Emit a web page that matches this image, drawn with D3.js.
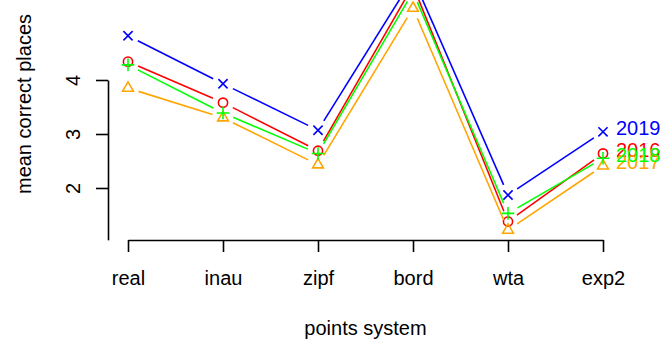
<!DOCTYPE html>
<html>
  <head>
    <script src="https://d3js.org/d3.v7.min.js" charset="utf-8"></script>
    <meta charset="UTF-8">
    <title>mean correct places</title>
    <style>
      body { margin: 0; background: #fff; }
      svg text { font-family: "Liberation Sans", Arial, sans-serif; font-size: 20px; fill: #000; }
    </style>
  </head>
  <body>
    <svg class="chart"></svg>
    <script type="text/javascript">

     var width = 672,
         height = 341;

     // points systems on the x axis
     var systems = ["real", "inau", "zipf", "bord", "wta", "exp2"];

     // one series per year
     var years = ["2016", "2017", "2018", "2019"];
     var v2016 = [4.34, 3.58, 2.69, 5.75, 1.38, 2.64];
     var v2017 = [3.85, 3.30, 2.43, 5.33, 1.22, 2.41];
     var v2018 = [4.28, 3.39, 2.64, 5.63, 1.53, 2.55];
     var v2019 = [4.82, 3.93, 3.07, 5.89, 1.87, 3.04];
     var yTicks = [2, 3, 4];

     var colors = ["#ff0000", "#ffa500", "#00ff00", "#0000ff"];
     var shapes = ["circle", "triangle", "plus", "cross"];

     var series = [v2016, v2017, v2018, v2019].map(function(vals, i) {
         return {year: years[i], color: colors[i], shape: shapes[i],
                 values: vals.map(function(v, j) { return {sys: systems[j], v: v}; })};
     });

     var chart = d3.select(".chart")
                   .attr("width", width)
                   .attr("height", height);

     var x = d3.scalePoint().domain(systems).range([128, 603]);
     var y = d3.scaleLinear().domain([2, 4]).range([188, 80]);

     // axes
     var xAxis = d3.axisBottom(x).tickSizeInner(12).tickSizeOuter(0);
     var gx = chart.append("g").attr("transform", "translate(0,240)").call(xAxis);
     gx.selectAll("text").attr("y", 0).attr("dy", 0)
       .attr("transform", "translate(0,45)").style("font-size", "20px");

     var yLine = y.copy().domain([1.04, 4]).range([y(1.04), y(4)]);
     var yAxis = d3.axisLeft(yLine).tickValues(yTicks).tickSizeInner(12).tickSizeOuter(0)
                   .tickFormat(d3.format("d"));
     var gy = chart.append("g").attr("transform", "translate(108,0)").call(yAxis);
     gy.selectAll("text").attr("x", 0).attr("y", -28).attr("dy", 0)
       .attr("text-anchor", "middle").attr("transform", "rotate(-90)")
       .style("font-size", "20px");

     chart.selectAll(".domain, .tick line").attr("stroke", "#000").attr("stroke-width", 1.6);
     chart.selectAll(".tick text").attr("fill", "#000").style("font-family", "'Liberation Sans', Arial, sans-serif");

     // titles
     chart.append("text").attr("x", 365.5).attr("y", 335)
          .attr("text-anchor", "middle").text("points system");
     chart.append("text").attr("transform", "translate(31,104) rotate(-90)")
          .attr("text-anchor", "middle").text("mean correct places");

     var gap = 11;

     function segs(vals) {
         var out = [];
         for (var i = 0; i < vals.length - 1; i++) {
             var x1 = x(vals[i].sys), y1 = y(vals[i].v),
                 x2 = x(vals[i + 1].sys), y2 = y(vals[i + 1].v);
             var dx = x2 - x1, dy = y2 - y1, len = Math.sqrt(dx * dx + dy * dy);
             var ux = dx / len, uy = dy / len;
             out.push({x1: x1 + ux * gap, y1: y1 + uy * gap,
                       x2: x2 - ux * gap, y2: y2 - uy * gap});
         }
         return out;
     }

     function marker(shape) {
         if (shape == "circle") return d3.symbol().type(d3.symbolCircle).size(Math.PI * 4.6 * 4.6)();
         if (shape == "triangle") {
             var r = 6.2, xc = r * Math.sqrt(3) / 2;
             return "M0," + (-r) + "L" + xc + "," + (r / 2) + "L" + (-xc) + "," + (r / 2) + "Z";
         }
         if (shape == "plus") return "M-6.3,0H6.3M0,-6.3V6.3";
         return "M-4.6,-4.6L4.6,4.6M-4.6,4.6L4.6,-4.6";
     }

     var g = chart.selectAll(".series").data(series).enter().append("g").attr("class", "series");

     g.selectAll("line").data(function(d) { return segs(d.values); })
      .enter().append("line")
      .attr("x1", function(d) { return d.x1; })
      .attr("y1", function(d) { return d.y1; })
      .attr("x2", function(d) { return d.x2; })
      .attr("y2", function(d) { return d.y2; })
      .attr("stroke", function(d) { return d3.select(this.parentNode).datum().color; })
      .attr("stroke-width", 1.6);

     g.selectAll("path").data(function(d) { return d.values.map(function(p) { return {p: p, s: d}; }); })
      .enter().append("path")
      .attr("d", function(d) { return marker(d.s.shape); })
      .attr("transform", function(d) { return "translate(" + x(d.p.sys) + "," + y(d.p.v) + ")"; })
      .attr("fill", "none")
      .attr("stroke", function(d) { return d.s.color; })
      .attr("stroke-width", 1.6);

     g.append("text")
      .attr("x", function(d) { return x(systems[systems.length - 1]) + 13; })
      .attr("y", function(d) { return y(d.values[d.values.length - 1].v); })
      .attr("dy", "0.18em")
      .style("fill", function(d) { return d.color; })
      .text(function(d) { return d.year; });

    </script>
  </body>
</html>
